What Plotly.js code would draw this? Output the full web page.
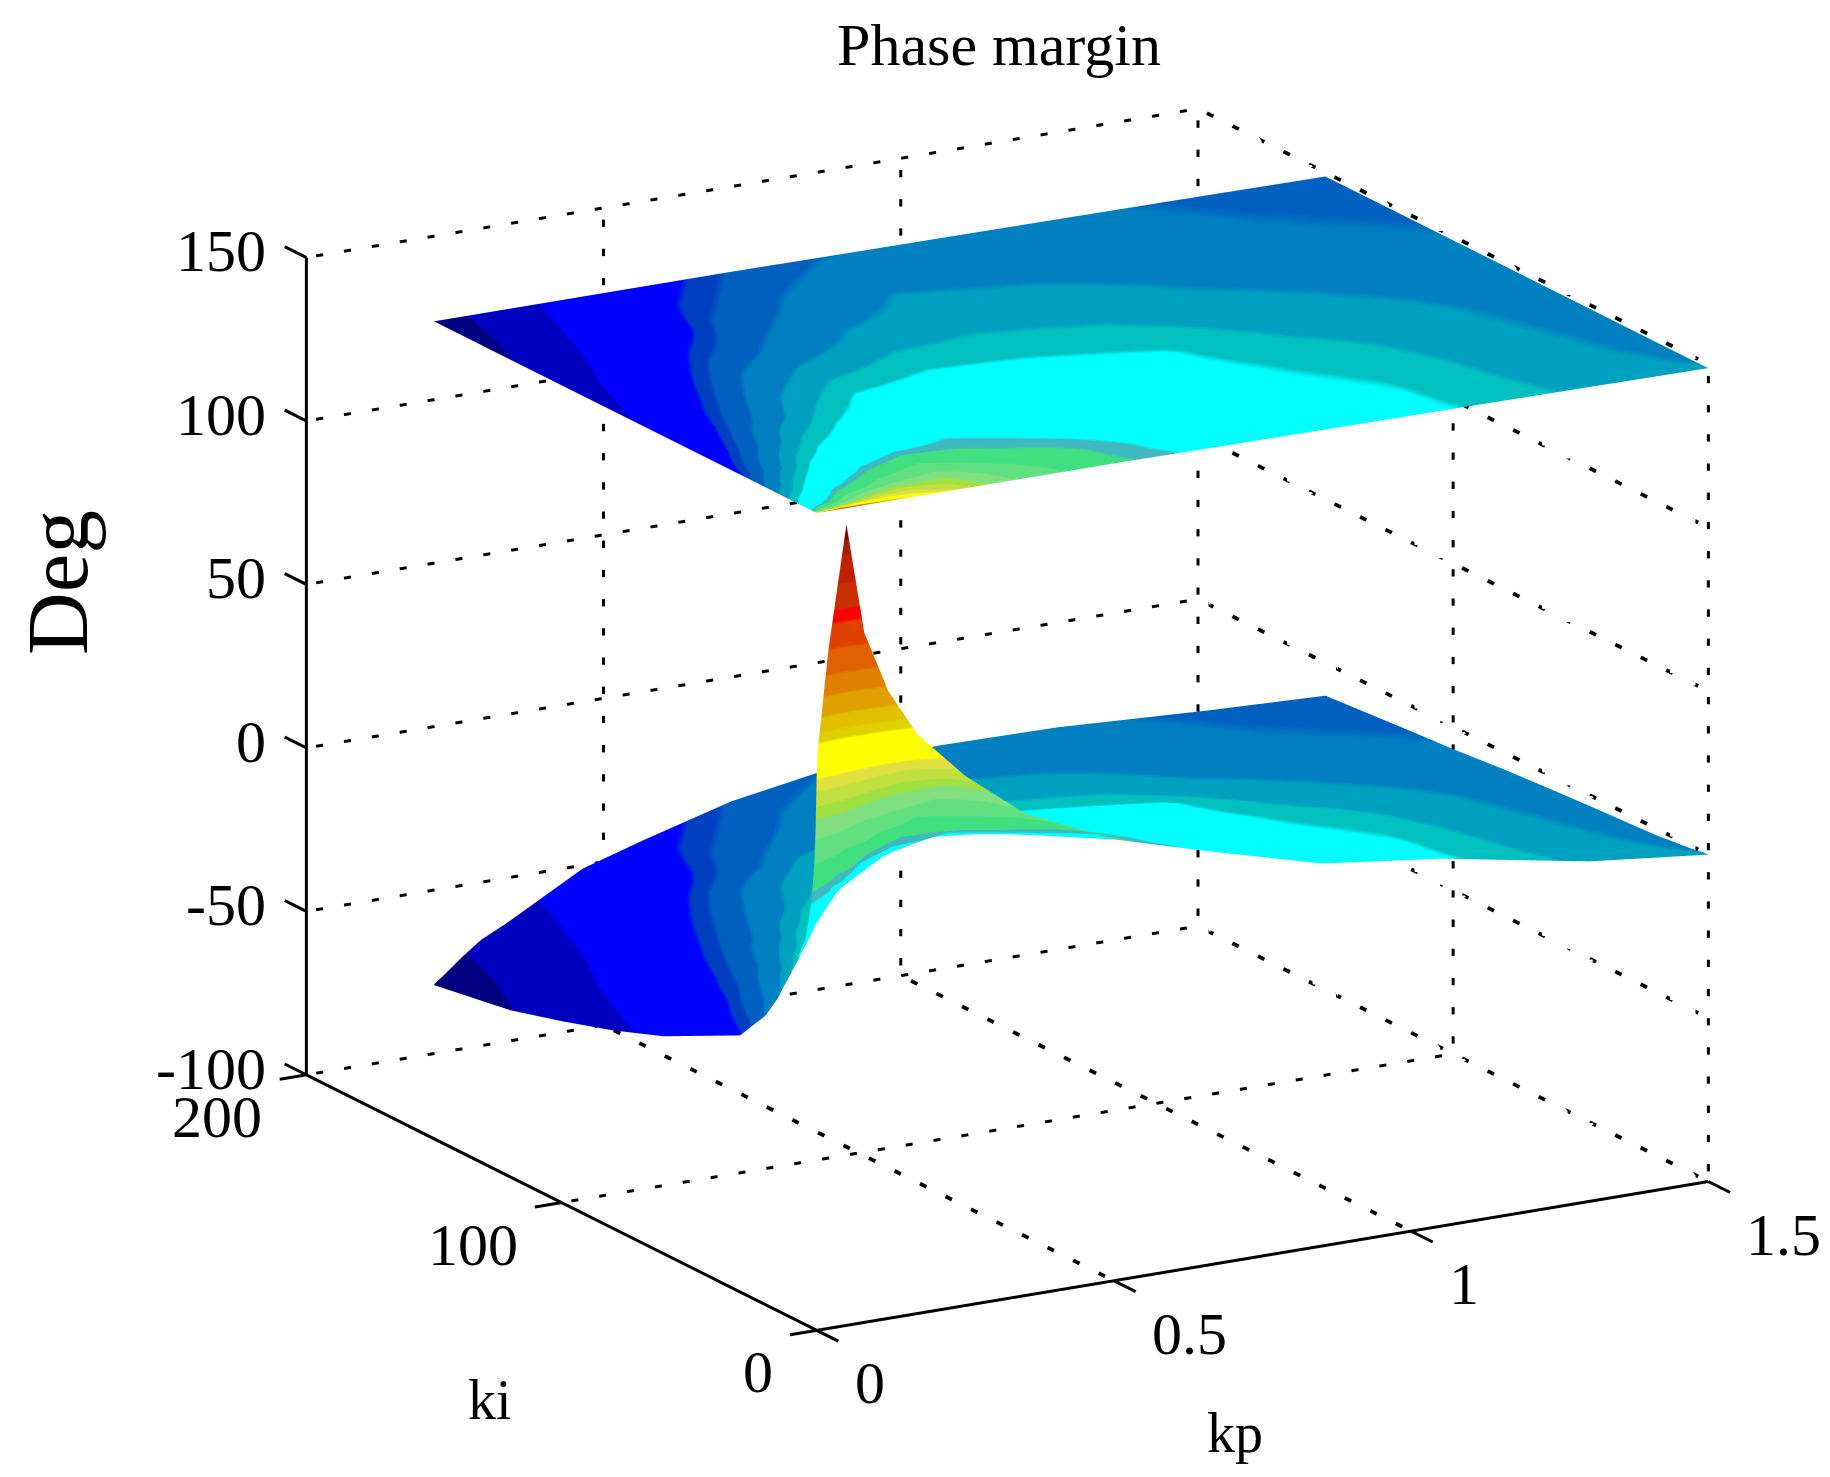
<!DOCTYPE html>
<html><head><meta charset="utf-8">
<script src="https://cdn.plot.ly/plotly-3.0.1.min.js"></script>
<style>html,body{margin:0;padding:0;background:#fff}#c{width:1830px;height:1477px}</style>
</head><body><div id="c"></div>
<script>
const kp=[0,.002,.02,.05,.08,.12,.17,.25,.35,.5,.65,.85,1.05,1.3,1.5];
const ki=[0,.5,1,2,3,5,7,10,15,20,30,45,60,80,100,120,150];
// phase margin (deg) read from the lower sheet and from the colour bands; rows follow ki, columns follow kp
const pm0  =[70,78,108,145,111,92,77,62,47.5,35,27,17,12.4,4,0];
const pm05 =[52,55,72,95,90,82,74,61.5,47.4,35,27,17,12.4,4,0];
const pm1  =[42,44,58,72,76,76,72,61,47.2,35,27,17,12.4,4,0];
const pm2  =[31,32,46,56,68,70,68.5,60,47,34.8,26.8,17,12.4,4,0];
const pm3  =[25,26,38,50,60,67,67,59.5,46.5,34.5,26.5,16.8,12.3,3.9,-.2];
const pm5  =[15,16,26,38,50,60,63,58.5,45.5,34.2,26,16.6,12.2,3.7,-.5];
const pm7  =[11,12,20,31,44,53,59,57,44.5,34,25.5,16.3,12.1,3.5,-.8];
const pm10 =[7,8,14,23,35,42,50,53.5,43,33.5,25,16,12,3.2,-1.1];
const pm15 =[-1,0,5,14,24,32,41,47,39,31.5,23.5,15.5,11.8,2.8,-1.5];
const pm20 =[-7,-6.5,-2,7,15,24,33,41,35,29,22,15,11.4,2.5,-2];
const pm30 =[-16.5,-16,-12,-5,2,12,19,27,30,24.5,18.5,14.2,10.5,2,-2.5];
const pm45 =[-24,-23.5,-20,-15,-10,-3,6.5,15,22,20,15.8,13.3,8.5,1.2,-3.2];
const pm60 =[-29,-28.5,-26,-21.5,-17,-11,-5,5.5,15,17,15,12,5.5,.4,-4];
const pm80 =[-35,-34.5,-32,-28,-24,-19,-13,-4,4,8.5,8.5,6.5,2,-1.8,-5.2];
const pm100=[-40,-39.5,-37.5,-33.5,-30,-25,-20.5,-12.5,-6.5,1,3.5,2.5,-1,-4,-6.8];
const pm120=[-45.5,-45,-43,-40,-37,-31.5,-27,-21,-12,-5,0,-1.5,-3.5,-6.5,-8];
const pm150=[-53,-52.5,-50,-45.5,-41.5,-38,-33,-25,-19.5,-12,-7.5,-5.5,-6,-8.5,-10];
const lowerSheet=[pm0,pm05,pm1,pm2,pm3,pm5,pm7,pm10,pm15,pm20,pm30,pm45,pm60,pm80,pm100,pm120,pm150];
// how far the kp=0 edge of the drawn lower sheet sits below the colour values, by ki row and kp column
const edgeDip=[0,0,0,0,0,0,0,-1,-3,-4.5,-5,-3.5,-4.5,-4.5,-4.5,-3.5,0];
const edgeDipWeight=[1,1,.9,.7,.5,.3,.1,0,0,0,0,0,0,0,0];
const upperSheetLevel=[150,150,150,150,150,150,150,150,150,150,149.8,149.6,149.4,149.1,148.8];

const bandEdges=[-55,-45,-32,-16,-13,-7,0,6,12,30,34,42,50,56,60,65,69,80,83,88,94,100,108,116,120,128,136,141,145];
const bandColors=['#000080','#0000C0','#0000FF','#0040C0','#0060C0','#0080C0','#00A0C0','#00C0C0','#00FFFF','#40B8C0','#40E080','#60E080','#80E080','#A0E040','#C0E040','#E0E040','#FFFF00','#E0D000','#E0C000','#E0A000','#E08000','#E06000','#E04000','#FF0000','#C83000','#C02000','#A02000','#800000'];

const kpTicks=[0,.5,1,1.5], kiTicks=[0,100,200], zTicks=[-100,-50,0,50,100,150];
const kpLabels=['0','0.5','1','1.5'], kiLabels=['0','100','200'], zLabels=['-100','-50','0','50','100','150'];
const kpMax=1.5, kiMax=200, zMin=-100, zMax=150, kpTick=.045, kiTick=8.5;

const lo=bandEdges[0], hi=bandEdges[bandEdges.length-1];
const colorscale=[];
bandColors.forEach((c,i)=>{colorscale.push([(bandEdges[i]-lo)/(hi-lo),c]);colorscale.push([(bandEdges[i+1]-lo)/(hi-lo),c]);});

const flat={ambient:1,diffuse:0,specular:0,roughness:1,fresnel:0};
const upperZ=ki.map(()=>upperSheetLevel);
const lowerZ=lowerSheet.map((row,i)=>row.map((v,j)=>v+edgeDip[i]*edgeDipWeight[j]));
function sheet(z){return {type:'surface',x:kp,y:ki,z:z,surfacecolor:lowerSheet,cmin:lo,cmax:hi,colorscale:colorscale,showscale:false,lighting:flat,hoverinfo:'skip',contours:{x:{highlight:false},y:{highlight:false},z:{highlight:false}}};}

function polyline(segments,line){const x=[],y=[],z=[];segments.forEach(s=>{s.forEach(p=>{x.push(p[0]);y.push(p[1]);z.push(p[2]);});x.push(null);y.push(null);z.push(null);});
 return {type:'scatter3d',mode:'lines',x,y,z,line,hoverinfo:'skip',showlegend:false,connectgaps:false};}

// gridlines drawn as short separate dashes, one group per direction
const kpDashes=32, kiDashes=20, zDashes=28, dashFill=.25, kiDashFill=.25;
function dashedLine(list,a,b,n,fill){for(let i=0;i<n;i++){const t0=(i+.35)/n,t1=(i+.35+fill)/n;
 list.push([a.map((v,k)=>v+(b[k]-v)*t0),a.map((v,k)=>v+(b[k]-v)*t1)]);}}
const dotsKp=[], dotsKi=[], dotsZ=[];
zTicks.forEach(v=>{dashedLine(dotsKp,[0,kiMax,v],[kpMax,kiMax,v],kpDashes,dashFill);dashedLine(dotsKi,[kpMax,kiMax,v],[kpMax,0,v],kiDashes,kiDashFill);});
kpTicks.slice(1).forEach(v=>dashedLine(dotsZ,[v,kiMax,zMin],[v,kiMax,zMax],zDashes,dashFill));
[0,100].forEach(v=>dashedLine(dotsZ,[kpMax,v,zMin],[kpMax,v,zMax],zDashes,dashFill));
[.5,1].forEach(v=>dashedLine(dotsKi,[v,0,zMin],[v,kiMax,zMin],kiDashes,kiDashFill));
dashedLine(dotsKp,[0,100,zMin],[kpMax,100,zMin],kpDashes,dashFill);

const solid=[[[0,kiMax,zMax],[0,kiMax,zMin],[0,0,zMin],[kpMax,0,zMin]]];
zTicks.forEach(v=>solid.push([[0,kiMax,v],[0,kiMax+kiTick,v]]));
kiTicks.forEach(v=>solid.push([[0,v,zMin],[-kpTick,v,zMin]]));
kpTicks.forEach(v=>solid.push([[v,0,zMin],[v,-kiTick,zMin]]));

const tickFont={family:'Liberation Serif',size:60,color:'#000'};
const ann=[];
zTicks.forEach((v,i)=>ann.push({x:0,y:kiMax,z:v,text:zLabels[i],showarrow:false,xanchor:'right',yanchor:'middle',xshift:-38,yshift:6,font:tickFont}));
kiTicks.forEach((v,i)=>ann.push({x:0,y:v,z:zMin,text:kiLabels[i],showarrow:false,xanchor:'right',yanchor:'middle',xshift:-42,yshift:-42,font:tickFont}));
kpTicks.forEach((v,i)=>ann.push({x:v,y:0,z:zMin,text:kpLabels[i],showarrow:false,xanchor:'left',yanchor:'middle',xshift:36,yshift:-53,font:tickFont}));

const el=16.8*Math.PI/180, az=240*Math.PI/180, dist=3;
const blank={showgrid:false,zeroline:false,showline:false,showticklabels:false,ticks:'',showbackground:false,showspikes:false,title:{text:''}};
const layout={width:1830,height:1477,margin:{l:0,r:0,t:0,b:0},paper_bgcolor:'#fff',showlegend:false,
 title:{text:'Phase margin',x:999/1830,xanchor:'center',y:1-44/1477,yanchor:'middle',font:{family:'Liberation Serif',size:60,color:'#000'}},
 annotations:[
  {xref:'paper',yref:'paper',x:57/1830,y:1-583/1477,xanchor:'center',yanchor:'middle',text:'Deg',textangle:-90,showarrow:false,font:{family:'Liberation Serif',size:87,color:'#000'}},
  {xref:'paper',yref:'paper',x:490/1830,y:1-1400/1477,xanchor:'center',yanchor:'middle',text:'ki',showarrow:false,font:{family:'Liberation Serif',size:56,color:'#000'}},
  {xref:'paper',yref:'paper',x:1235/1830,y:1-1433/1477,xanchor:'center',yanchor:'middle',text:'kp',showarrow:false,font:{family:'Liberation Serif',size:56,color:'#000'}}],
 scene:{domain:{x:[.0847,1],y:[.0223,1]},
  xaxis:Object.assign({},blank,{range:[-.05,1.5],tickvals:kpTicks,ticktext:kpLabels}),
  yaxis:Object.assign({},blank,{range:[-9,209],tickvals:kiTicks,ticktext:kiLabels}),
  zaxis:Object.assign({},blank,{range:[-101,151],tickvals:zTicks,ticktext:zLabels}),
  aspectmode:'manual',aspectratio:{x:1.4735,y:1.541,z:1.192},
  camera:{projection:{type:'orthographic'},up:{x:0,y:0,z:1},center:{x:0,y:0,z:0},
   eye:{x:dist*Math.cos(el)*Math.cos(az),y:dist*Math.cos(el)*Math.sin(az),z:dist*Math.sin(el)}},
  annotations:ann}};
const data=[sheet(upperZ),sheet(lowerZ),
 polyline(dotsKp,{color:'#000',width:6}),
 polyline(dotsKi,{color:'#000',width:7.5}),
 polyline(dotsZ,{color:'#000',width:6}),
 polyline(solid,{color:'#000',width:6})];
Plotly.newPlot('c',data,layout,{displayModeBar:false});
</script></body></html>
